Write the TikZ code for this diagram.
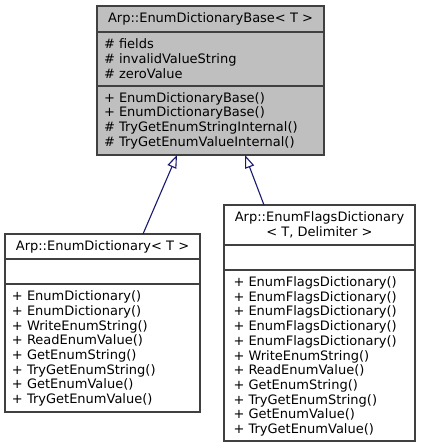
\documentclass[tikz,border=0pt]{standalone}
\usepackage{fontspec}
\setmainfont{DejaVu Sans}
\usetikzlibrary{arrows.meta}
\definecolor{edgeblue}{HTML}{191970}
\definecolor{basefill}{HTML}{BFBFBF}
\definecolor{boxborder}{HTML}{404040}
\tikzset{
  classbox/.style={draw=boxborder, line width=1.1pt, inner sep=0pt, outer sep=0pt, anchor=north west},
  divline/.style={draw=boxborder, line width=1.1pt},
  txt/.style={inner sep=0pt, outer sep=0pt, font=\fontsize{13pt}{14.7pt}\selectfont},
  inherit/.style={draw=edgeblue, line width=1.1pt, -{Triangle[open, length=13pt, width=9.5pt, line width=1.1pt]}},
}
\begin{document}
\begin{tikzpicture}[x=1pt, y=-1pt]
\useasboundingbox (0,0) rectangle (421,448);
% base class
\node[classbox, fill=basefill, minimum width=227pt, minimum height=149pt] (base) at (97,6) {};
\draw[divline] (97,32) -- (324,32);
\draw[divline] (97,86) -- (324,86);
\node[txt] (basetitle) at (210.5,19) {Arp::EnumDictionaryBase< T >};
\node[txt, anchor=west, align=left] (basefields) at (104,58.5) {\# fields\\\# invalidValueString\\\# zeroValue};
\node[txt, anchor=west, align=left] (basemethods) at (104,120.5) {+ EnumDictionaryBase()\\+ EnumDictionaryBase()\\\# TryGetEnumStringInternal()\\\# TryGetEnumValueInternal()};
% EnumDictionary
\node[classbox, fill=white, minimum width=195pt, minimum height=178pt] (dict) at (5,234) {};
\draw[divline] (5,259) -- (200,259);
\draw[divline] (5,284) -- (200,284);
\node[txt] (dicttitle) at (102.5,246.5) {Arp::EnumDictionary< T >};
\node[txt, anchor=west, align=left] (dictmethods) at (12,348.5) {+ EnumDictionary()\\+ EnumDictionary()\\+ WriteEnumString()\\+ ReadEnumValue()\\+ GetEnumString()\\+ TryGetEnumString()\\+ GetEnumValue()\\+ TryGetEnumValue()};
% EnumFlagsDictionary
\node[classbox, fill=white, minimum width=191pt, minimum height=236pt] (flags) at (224,205) {};
\draw[divline] (224,245) -- (415,245);
\draw[divline] (224,270) -- (415,270);
\node[txt, align=center] (flagstitle) at (319.5,225) {Arp::EnumFlagsDictionary\\< T, Delimiter >};
\node[txt, anchor=west, align=left] (flagsmethods) at (233.5,356.5) {+ EnumFlagsDictionary()\\+ EnumFlagsDictionary()\\+ EnumFlagsDictionary()\\+ EnumFlagsDictionary()\\+ EnumFlagsDictionary()\\+ WriteEnumString()\\+ ReadEnumValue()\\+ GetEnumString()\\+ TryGetEnumString()\\+ GetEnumValue()\\+ TryGetEnumValue()};
% inheritance
\draw[inherit] ([xshift=40.5pt]dict.north) -- ([xshift=-33.5pt]base.south);
\draw[inherit] ([xshift=-55.5pt]flags.north) -- ([xshift=34.5pt]base.south);
\end{tikzpicture}
\end{document}
